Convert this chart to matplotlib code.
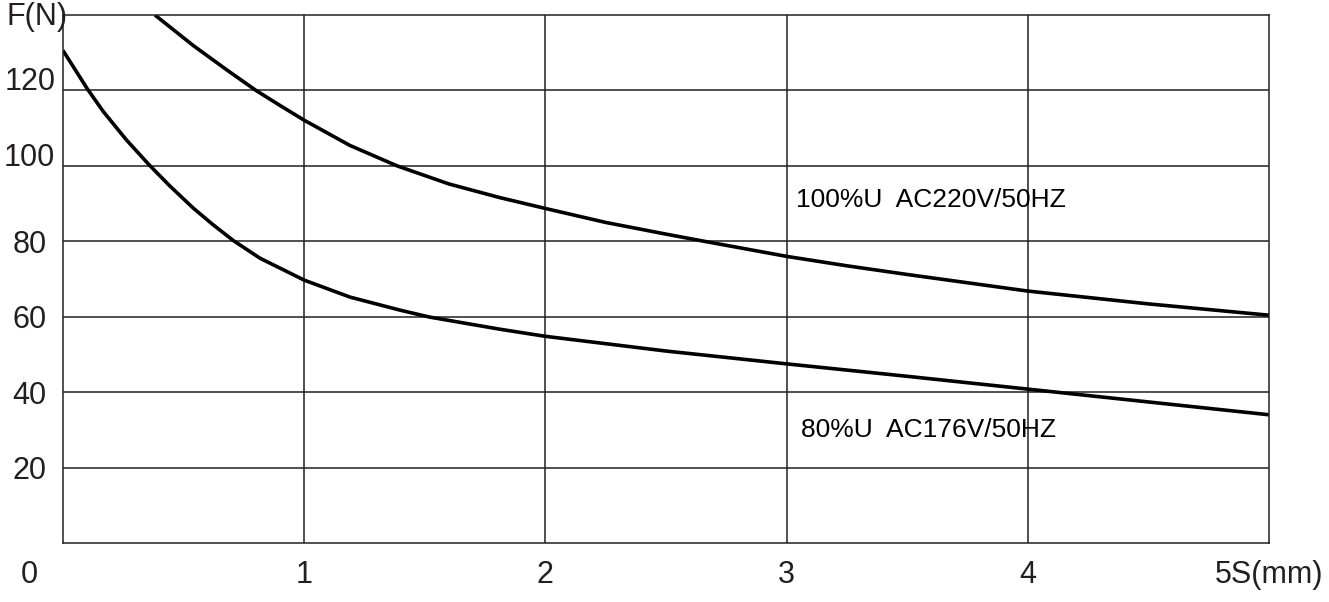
"""
Force-stroke curves of an AC solenoid at 100% and 80% rated voltage.
"""

import matplotlib
matplotlib.use("Agg")
import matplotlib.pyplot as plt

# -----------------------------------------------------------------------
# Data
# -----------------------------------------------------------------------
# 100%U AC220V/50HZ
stroke_100 = [0.381, 0.54, 0.68, 0.8, 0.9, 1.0, 1.19, 1.385, 1.6, 1.81, 2.0,
              2.25, 2.5, 2.65, 3.0, 3.25, 3.5, 3.75, 4.0, 4.5, 5.0]
force_100 = [140, 131.9, 125.4, 120, 116, 112.1, 105.4, 100, 95.2, 91.6, 88.7,
             85.0, 81.9, 80.1, 76, 73.5, 71.2, 69, 66.8, 63.4, 60.4]

# 80%U AC176V/50HZ
stroke_80 = [0.0, 0.1, 0.167, 0.264, 0.361, 0.444, 0.54, 0.62, 0.706, 0.817,
             1.0, 1.19, 1.4, 1.52, 1.81, 2.0, 2.5, 3.0, 3.5, 4.0, 4.5, 5.0]
force_80 = [130.6, 120.5, 114.4, 106.8, 100, 94.6, 88.8, 84.5, 80.2, 75.5,
            69.7, 65.2, 61.7, 59.9, 56.7, 54.8, 50.9, 47.5, 44.2, 40.8, 37.4, 34]

x_ticks = [1, 2, 3, 4, 5]
x_labels = ["1", "2", "3", "4", "5S(mm)"]
y_ticks = [20, 40, 60, 80, 100, 120]
y_labels = ["20", "40", "60", "80", "100", "120"]

label_100 = "100%U  AC220V/50HZ"
label_80 = "80%U  AC176V/50HZ"

GRID = "#231f20"
plt.rcParams["font.family"] = ["Liberation Sans", "DejaVu Sans"]

fig = plt.figure(figsize=(13.29, 6.02), dpi=100)
ax = fig.add_axes([63 / 1329, 59 / 602, 1206 / 1329, 528 / 602])

ax.plot(stroke_100, force_100, color="black", linewidth=2.6,
        solid_joinstyle="round", solid_capstyle="butt")
ax.plot(stroke_80, force_80, color="black", linewidth=2.6,
        solid_joinstyle="round", solid_capstyle="butt")

ax.set_xlim(0, 5)
ax.set_ylim(0, 140)

# grid lines
for y in y_ticks:
    ax.axhline(y, color=GRID, linewidth=1.1, zorder=1)
for x in x_ticks[:-1]:
    ax.axvline(x, color=GRID, linewidth=1.1, zorder=1)
for s in ax.spines.values():
    s.set_color(GRID)
    s.set_linewidth(1.1)

ax.set_xticks(x_ticks)
ax.set_xticklabels(x_labels, fontsize=22, color=GRID)
ax.set_yticks(y_ticks)
ax.set_yticklabels(y_labels, fontsize=22, color=GRID)
ax.tick_params(axis="x", length=0, pad=12)
ax.tick_params(axis="y", length=0, pad=24)
for lbl in ax.get_yticklabels():
    lbl.set_ha("center")
    if lbl.get_text() in ("100", "120"):
        lbl.set_va("baseline")

# origin and axis name
ax.annotate("0", xy=(0, 0), xytext=(-24, -12), textcoords="offset points",
            ha="center", va="top", fontsize=22, color=GRID, annotation_clip=False)
ax.annotate("F(N)", xy=(0, 140), xytext=(-19, -1.5), textcoords="offset points",
            ha="center", va="center", fontsize=22, color=GRID, annotation_clip=False)

# curve labels
ax.text(3.04, 91, label_100, fontsize=19, va="center", ha="left", color="black")
ax.text(3.06, 30, label_80, fontsize=19, va="center", ha="left", color="black")

fig.savefig("out.png", dpi=100)
